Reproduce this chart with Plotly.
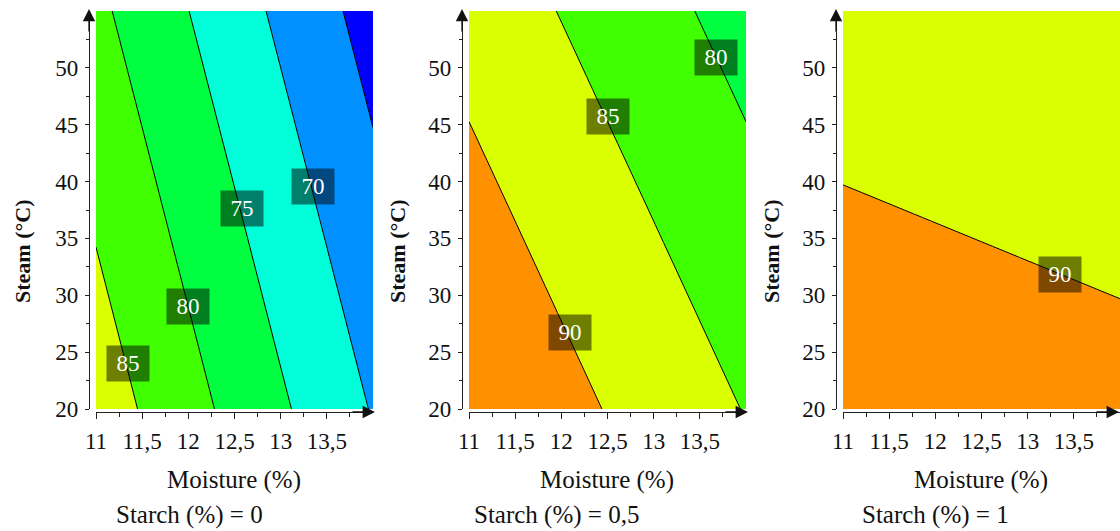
import plotly.graph_objects as go

# ---- data ----
moisture = [11.0, 12.5, 14.0]          # Moisture (%) grid
steam = [20.0, 37.5, 55.0]             # Steam (°C) grid
# response values z[steam_index][moisture_index]
yield_starch_0 = [[87.70, 78.70, 69.70],
                  [84.38, 75.38, 66.38],
                  [81.05, 72.05, 63.05]]
yield_starch_05 = [[94.80, 89.80, 84.80],
                   [91.48, 86.48, 81.48],
                   [88.15, 83.15, 78.15]]
yield_starch_1 = [[93.74, 92.79, 91.84],
                  [90.42, 89.47, 88.52],
                  [87.09, 86.14, 85.19]]
starch_labels = ["0", "0,5", "1"]
x_tickvals = [11, 11.5, 12, 12.5, 13, 13.5]
x_ticktext = ["11", "11,5", "12", "12,5", "13", "13,5"]
x_minor = [11.25, 11.75, 12.25, 12.75, 13.25, 13.75]
y_tickvals = [20, 25, 30, 35, 40, 45, 50]
y_minor = [22.5, 27.5, 32.5, 37.5, 42.5, 47.5, 52.5]
contour_labels = [  # (level text, moisture, steam) label anchor per panel
    [("85", 11.35, 24.0), ("80", 12.0, 29.0), ("75", 12.58, 37.6), ("70", 13.35, 39.6)],
    [("90", 12.09, 26.7), ("85", 12.5, 45.7), ("80", 13.68, 50.9)],
    [("90", 13.35, 31.8)],
]

band_colors = ["#0000ff", "#0090ff", "#00ffd9", "#00ff40", "#40ff00", "#d9ff00", "#ff9000"]
colorscale = [[i / 6, c] for i, c in enumerate(band_colors)]

W, H = 1120, 531
FONT = "Liberation Serif"
TXT = "#111111"
AX = "#222222"

panels_px = [(96, 373), (469, 746), (843, 1120)]
yaxis_px = [89, 462, 836]
plot_top, plot_bot = 11, 409
xaxis_py = 412

zs = [yield_starch_0, yield_starch_05, yield_starch_1]

fig = go.Figure()
for i, z in enumerate(zs):
    sfx = "" if i == 0 else str(i + 1)
    fig.add_trace(go.Contour(
        x=moisture, y=steam, z=z,
        xaxis="x" + sfx, yaxis="y" + sfx,
        contours=dict(start=65, end=90, size=5, coloring="fill", showlabels=False),
        colorscale=colorscale, showscale=False,
        line=dict(color="black", width=1),
        hoverinfo="skip",
    ))

layout = dict(
    template="none",
    width=W, height=H, margin=dict(l=0, r=0, t=0, b=0, pad=0, autoexpand=False),
    paper_bgcolor="white", plot_bgcolor="white", showlegend=False,
    font=dict(family=FONT, color=TXT),
)
annotations = []
ydom = [1 - plot_bot / H, 1 - plot_top / H]
xpos = 1 - xaxis_py / H
for i in range(3):
    n = i + 1
    sfx = "" if i == 0 else str(n)
    x0, x1 = panels_px[i]
    xdom = [x0 / W, x1 / W]
    ypos = yaxis_px[i] / W
    # main axes (outside ticks + labels)
    layout["xaxis" + sfx] = dict(
        domain=xdom, range=[11, 14], anchor="free", position=xpos, automargin=False,
        showgrid=False, zeroline=False, showline=True, linecolor=AX, linewidth=1.3,
        tickmode="array", tickvals=x_tickvals, ticktext=x_ticktext,
        ticks="outside", ticklen=6, tickwidth=1.3, tickcolor=AX,
        minor=dict(tickmode="array", tickvals=x_minor, ticks="outside", ticklen=4, tickwidth=1.2, tickcolor=AX),
        tickfont=dict(family=FONT, size=23, color=TXT), ticklabelstandoff=2,
    )
    layout["yaxis" + sfx] = dict(
        domain=ydom, range=[20, 55], anchor="free", position=ypos, automargin=False,
        showgrid=False, zeroline=False, showline=True, linecolor=AX, linewidth=1.3,
        tickmode="array", tickvals=y_tickvals,
        ticks="outside", ticklen=4, tickwidth=1.3, tickcolor=AX,
        minor=dict(tickmode="array", tickvals=y_minor, ticks="outside", ticklen=3, tickwidth=1.2, tickcolor=AX),
        tickfont=dict(family=FONT, size=23, color=TXT), ticklabelstandoff=2,
    )
    # overlay axes for the inner half of crossing ticks
    ox, oy = 3 + n, 3 + n
    layout["xaxis%d" % ox] = dict(
        domain=xdom, range=[11, 14], anchor="free", position=xpos, overlaying="x" + sfx,
        automargin=False, showgrid=False, zeroline=False, showline=False, showticklabels=False,
        tickmode="array", tickvals=x_tickvals, ticks="inside", ticklen=3, tickwidth=1.3, tickcolor=AX,
        minor=dict(tickmode="array", tickvals=x_minor, ticks="inside", ticklen=2, tickwidth=1.2, tickcolor=AX),
    )
    layout["yaxis%d" % oy] = dict(
        domain=ydom, range=[20, 55], anchor="free", position=ypos, overlaying="y" + sfx,
        automargin=False, showgrid=False, zeroline=False, showline=False, showticklabels=False,
        tickmode="array", tickvals=y_tickvals, ticks="inside", ticklen=3, tickwidth=1.3, tickcolor=AX,
        minor=dict(tickmode="array", tickvals=y_minor, ticks="inside", ticklen=2, tickwidth=1.2, tickcolor=AX),
    )
    # arrows at axis ends
    annotations.append(dict(xref="paper", yref="paper", x=ypos, y=1 - 9 / H, ax=0, ay=24,
                            text="", showarrow=True, arrowhead=2, arrowsize=1.9, arrowwidth=1.3,
                            arrowcolor="#111"))
    annotations.append(dict(xref="paper", yref="paper", x=min(x1 + 2, W - 1) / W, y=xpos, ax=-24, ay=0,
                            text="", showarrow=True, arrowhead=2, arrowsize=1.9, arrowwidth=1.3,
                            arrowcolor="#111"))
    # contour labels
    for txt, mx, sy in contour_labels[i]:
        annotations.append(dict(xref="x" + sfx, yref="y" + sfx, x=mx, y=sy, text=txt,
                                xanchor="center", yanchor="middle",
                                showarrow=False, bgcolor="rgba(0,0,0,0.5)", width=40, height=33,
                                font=dict(family=FONT, size=23, color="white")))

ytitle_x = [22, 397, 771]
mtitle_x = [234, 607, 981]
stitle_x = [189, 556, 935]
for i in range(3):
    annotations.append(dict(xref="paper", yref="paper", x=ytitle_x[i] / W, y=1 - 251 / H,
                            xanchor="center", yanchor="middle",
                            text="<b>Steam (°C)</b>", textangle=-90, showarrow=False,
                            font=dict(family=FONT, size=22, color=TXT)))
    annotations.append(dict(xref="paper", yref="paper", x=mtitle_x[i] / W, y=1 - 480 / H,
                            xanchor="center", yanchor="middle",
                            text="Moisture (%)", showarrow=False,
                            font=dict(family=FONT, size=25, color=TXT)))
    annotations.append(dict(xref="paper", yref="paper", x=stitle_x[i] / W, y=1 - 515 / H,
                            xanchor="center", yanchor="middle",
                            text="Starch (%) = " + starch_labels[i], showarrow=False,
                            font=dict(family=FONT, size=25, color=TXT)))
layout["annotations"] = annotations
fig.update_layout(**layout)
fig.write_html("out.html")
